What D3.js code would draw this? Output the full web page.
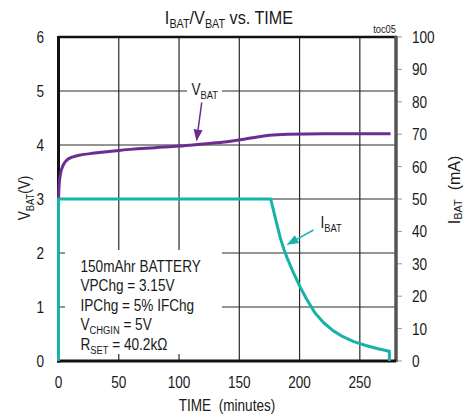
<!DOCTYPE html>
<html><head><meta charset="utf-8">
<script src="https://cdn.jsdelivr.net/npm/d3@7"></script>
<style>
body{margin:0;background:#fff}
svg{display:block}
text{font-family:'Liberation Sans Narrow','Arial Narrow','Liberation Sans',Arial,sans-serif;fill:#1a1a1a;white-space:pre}
</style></head>
<body><div id="chart"></div>
<script>
// ---- data ----
const timeTicks = [0, 50, 100, 150, 200, 250];
const vTicks = [0, 1, 2, 3, 4, 5, 6];
const iTicks = [0, 10, 20, 30, 40, 50, 60, 70, 80, 90, 100];
const vbatTime  = [0, 0.5, 1.5, 3, 5, 8, 12, 17, 30, 50, 80, 100, 120, 140, 155, 165, 175, 190, 220, 275.5];
const vbatValue = [3.0, 3.25, 3.45, 3.58, 3.67, 3.74, 3.78, 3.81, 3.85, 3.9, 3.95, 3.98, 4.02, 4.06, 4.11, 4.15, 4.18, 4.2, 4.21, 4.21];
const ibatTime  = [0, 0, 176, 178, 181, 184, 187, 190, 194, 200, 206, 213, 220, 228, 236, 245, 255, 265, 274.5, 274.5];
const ibatValue = [0, 50, 50, 47, 42.5, 38, 34.5, 31.5, 28, 23.2, 19, 14.7, 11.8, 9.3, 7.5, 6, 4.8, 3.8, 3, 0];
const noteLines = [
  ["150mAhr BATTERY", "", ""],
  ["VPChg = 3.15V", "", ""],
  ["IPChg = 5% IFChg", "", ""],
  ["V", "CHGIN", " = 5V"],
  ["R", "SET", " = 40.2k\u03A9"]
];

// ---- layout ----
const W = 463, H = 420;
const L = 58.5, R = 396, T = 37, B = 361;
const SX = 0.85;
const svg = d3.select("#chart").append("svg").attr("width", W).attr("height", H);
const x = d3.scaleLinear().domain([0, 280]).range([L, R]);
const yV = d3.scaleLinear().domain([0, 6]).range([B, T]);
const yI = d3.scaleLinear().domain([0, 100]).range([B, T]);
const purple = "#6b2d8f", teal = "#17b3a9";

function txt(px, py, parts, opt = {}) {
  const fs = opt.fs || 16, sfs = opt.sfs || 11, sx = opt.sx || SX, rot = opt.rot || 0, sdy = opt.sdy || 4;
  const g = svg.append("g").attr("transform", `translate(${px},${py}) rotate(${rot}) scale(${sx},1)`);
  const t = g.append("text").attr("text-anchor", opt.anchor || "start").attr("font-size", fs);
  if (typeof parts === "string" || typeof parts === "number") parts = [String(parts)];
  parts.forEach((p, i) => {
    if (!p) return;
    const s = t.append("tspan").text(p);
    if (i % 2 === 1) s.attr("font-size", sfs).attr("dy", sdy);
    else if (i > 0 && parts[i - 1]) s.attr("dy", -sdy);
  });
  return t;
}

// grid
svg.append("g").selectAll("line").data(timeTicks.filter(d => d > 0)).join("line")
  .attr("x1", d => x(d)).attr("x2", d => x(d)).attr("y1", T).attr("y2", B)
  .attr("stroke", "#2a2a2a").attr("stroke-width", 1.2);
svg.append("g").selectAll("line").data(vTicks.filter(d => d > 0 && d < 6)).join("line")
  .attr("x1", L).attr("x2", R).attr("y1", d => yV(d)).attr("y2", d => yV(d))
  .attr("stroke", "#2a2a2a").attr("stroke-width", 1.2);

// white boxes behind annotations
svg.append("rect").attr("x", 65).attr("y", 250).attr("width", 157).attr("height", 104).attr("fill", "#fff");
svg.append("rect").attr("x", 187).attr("y", 80).attr("width", 35).attr("height", 20).attr("fill", "#fff");

// right axis ticks (outside)
svg.append("g").selectAll("line").data(iTicks).join("line")
  .attr("x1", R).attr("x2", R + 6).attr("y1", d => yI(d)).attr("y2", d => yI(d))
  .attr("stroke", "#9a9a9a").attr("stroke-width", 1);

// frame
svg.append("line").attr("x1", L).attr("x2", R + 1).attr("y1", T).attr("y2", T).attr("stroke", "#111").attr("stroke-width", 2.5);
svg.append("line").attr("x1", R).attr("x2", R).attr("y1", T - 1).attr("y2", B + 1).attr("stroke", "#555").attr("stroke-width", 3.5);
svg.append("line").attr("x1", L).attr("x2", L).attr("y1", T - 1).attr("y2", B + 1.5).attr("stroke", "#111").attr("stroke-width", 3);
svg.append("line").attr("x1", L - 1.5).attr("x2", R).attr("y1", B).attr("y2", B).attr("stroke", "#111").attr("stroke-width", 3);

// series
const vLine = d3.line().x((d, i) => x(vbatTime[i])).y(d => yV(d)).curve(d3.curveMonotoneX);
svg.append("path").attr("d", vLine(vbatValue)).attr("fill", "none").attr("stroke", purple).attr("stroke-width", 3);
const iLine = d3.line().x((d, i) => x(ibatTime[i])).y(d => yI(d)).curve(d3.curveLinear);
svg.append("path").attr("d", iLine(ibatValue)).attr("fill", "none").attr("stroke", teal).attr("stroke-width", 3).attr("stroke-linejoin", "round");

// tick labels
vTicks.forEach(d => txt(44, yV(d) + 6, d, { anchor: "end" }));
iTicks.forEach(d => txt(412, yI(d) + 6, d));
timeTicks.forEach(d => txt(x(d), 388, d, { anchor: "middle" }));

// axis titles
txt(227, 411, "TIME  (minutes)", { anchor: "middle" });
txt(29.5, 198, ["V", "BAT", "(V)"], { anchor: "middle", rot: -90 });
txt(459.5, 190, ["I", "BAT", "  (mA)"], { anchor: "middle", rot: -90, fs: 16, sfs: 11, sdy: 2.5, sx: 1 });

// title
txt(229, 24, ["I", "BAT", "/V", "BAT", " vs. TIME"], { anchor: "middle", fs: 18, sfs: 12, sx: 0.9 });
txt(396, 33, "toc05", { anchor: "end", fs: 11 });

// notes
noteLines.forEach((ln, i) => txt(80.5, 271.5 + i * 19.6, ln));

// series labels + arrows
txt(191.5, 95, ["V", "BAT", ""]);
txt(320.5, 228, ["I", "BAT", ""]);

function arrow(x1, y1, x2, y2, col) {
  const a = Math.atan2(y2 - y1, x2 - x1), len = 12, w = 4.5;
  const bx = x2 - len * Math.cos(a), by = y2 - len * Math.sin(a);
  svg.append("line").attr("x1", x1).attr("y1", y1).attr("x2", bx).attr("y2", by).attr("stroke", col).attr("stroke-width", 1.5);
  const px = -Math.sin(a) * w, py = Math.cos(a) * w;
  svg.append("path").attr("d", `M${x2},${y2}L${bx + px},${by + py}L${bx - px},${by - py}Z`).attr("fill", col);
}
arrow(201.7, 102.5, 196.5, 141.5, purple);
arrow(313.5, 230, 286.5, 245, teal);
</script></body></html>
